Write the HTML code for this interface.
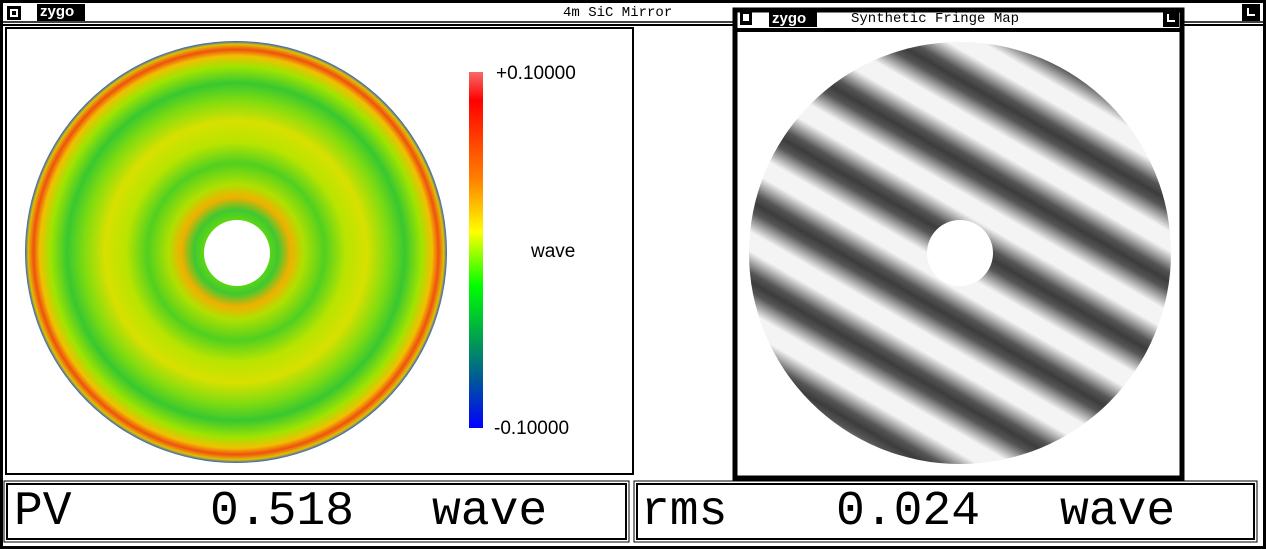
<!DOCTYPE html>
<html><head><meta charset="utf-8"><style>
html,body{margin:0;padding:0;background:#fff}
body{width:1266px;height:549px;position:relative;overflow:hidden;font-family:"Liberation Mono",monospace}
.t{position:absolute;white-space:pre;color:#000}
.big{font-family:"Liberation Mono",monospace;font-size:48px;line-height:48px}
</style></head><body>
<svg width="1266" height="549" style="position:absolute;left:0;top:0" xmlns="http://www.w3.org/2000/svg">
<defs>
<radialGradient id="rg" cx="236" cy="252" r="211" gradientUnits="userSpaceOnUse">
<stop offset="0.15" stop-color="#60d810"/>
<stop offset="0.2" stop-color="#40c830"/>
<stop offset="0.26" stop-color="#f0b000"/>
<stop offset="0.32" stop-color="#b0e000"/>
<stop offset="0.42" stop-color="#50d020"/>
<stop offset="0.52" stop-color="#b8e400"/>
<stop offset="0.62" stop-color="#d8e000"/>
<stop offset="0.72" stop-color="#80dc10"/>
<stop offset="0.8" stop-color="#38c830"/>
<stop offset="0.88" stop-color="#a0e400"/>
<stop offset="0.93" stop-color="#f0c000"/>
<stop offset="0.96" stop-color="#f05010"/>
<stop offset="0.985" stop-color="#e0c000"/>
<stop offset="1" stop-color="#3060c0"/>
</radialGradient>
<linearGradient id="cb" x1="0" y1="72" x2="0" y2="428" gradientUnits="userSpaceOnUse">
<stop offset="0" stop-color="#f86a6a"/>
<stop offset="0.08" stop-color="#ff0000"/>
<stop offset="0.3" stop-color="#ff8000"/>
<stop offset="0.45" stop-color="#ffff00"/>
<stop offset="0.6" stop-color="#00ff00"/>
<stop offset="0.75" stop-color="#00a050"/>
<stop offset="0.85" stop-color="#006090"/>
<stop offset="1" stop-color="#0000ff"/>
</linearGradient>
<linearGradient id="fr" x1="0" y1="0" x2="0" y2="70" gradientUnits="userSpaceOnUse" spreadMethod="repeat" gradientTransform="translate(960,253) rotate(30) translate(0,-10)">
<stop offset="0" stop-color="#3c3c3c"/>
<stop offset="0.12" stop-color="#555"/>
<stop offset="0.38" stop-color="#f4f4f4"/>
<stop offset="0.62" stop-color="#f4f4f4"/>
<stop offset="0.88" stop-color="#555"/>
<stop offset="1" stop-color="#3c3c3c"/>
</linearGradient>
</defs>
<rect x="1.5" y="1.5" width="1263" height="546" fill="none" stroke="#000" stroke-width="3"/>
<line x1="3" y1="22" x2="1263" y2="22" stroke="#000" stroke-width="1.5"/>
<line x1="3" y1="25" x2="1263" y2="25" stroke="#000" stroke-width="2"/>
<rect x="7" y="6" width="14" height="14" fill="#000"/>
<rect x="10" y="9" width="8" height="8" fill="#fff"/>
<rect x="12" y="11" width="4" height="4" fill="#000"/>
<rect x="37" y="4" width="48" height="17" fill="#000"/>
<rect x="1242" y="4" width="18" height="17" fill="#000"/>
<path d="M1248 8 v7 h7" stroke="#fff" stroke-width="2" fill="none"/>
<rect x="6" y="28" width="627" height="446" fill="#fff" stroke="#000" stroke-width="2"/>
<circle cx="236" cy="252" r="211" fill="url(#rg)"/>
<circle cx="237" cy="253" r="33" fill="#fff"/>
<rect x="469" y="72" width="14" height="356" fill="url(#cb)"/>
<rect x="735" y="10" width="447" height="468" fill="#fff" stroke="#000" stroke-width="5"/>
<line x1="737" y1="30" x2="1180" y2="30" stroke="#000" stroke-width="4"/>
<rect x="740" y="11" width="12" height="14" fill="#000"/>
<rect x="743" y="14" width="6" height="7" fill="#fff"/>
<rect x="769" y="11" width="48" height="16" fill="#000"/>
<rect x="1163" y="11" width="16" height="16" fill="#000"/>
<path d="M1168 14 v7 h7" stroke="#fff" stroke-width="2" fill="none"/>
<circle cx="960" cy="253" r="211" fill="url(#fr)"/>
<circle cx="960" cy="253" r="33" fill="#fff"/>
<rect x="7" y="484" width="619" height="55" fill="#fff" stroke="#000" stroke-width="2"/>
<rect x="637" y="484" width="617" height="55" fill="#fff" stroke="#000" stroke-width="2"/>
<rect x="4" y="481" width="625" height="61" fill="none" stroke="#000" stroke-width="1"/>
<rect x="634" y="481" width="623" height="61" fill="none" stroke="#000" stroke-width="1"/>
</svg>
<div class="t" style="left:40px;top:3px;font-family:'Liberation Sans',sans-serif;font-weight:bold;font-size:15px;color:#fff">zygo</div>
<div class="t" style="left:772px;top:10px;font-family:'Liberation Sans',sans-serif;font-weight:bold;font-size:15px;color:#fff">zygo</div>
<div class="t" style="left:563px;top:5px;font-size:14px">4m SiC Mirror</div>
<div class="t" style="left:851px;top:11px;font-size:14px">Synthetic Fringe Map</div>
<div class="t" style="left:496px;top:63px;font-family:'Liberation Sans',sans-serif;font-size:19px">+0.10000</div>
<div class="t" style="left:494px;top:418px;font-family:'Liberation Sans',sans-serif;font-size:19px">-0.10000</div>
<div class="t" style="left:531px;top:241px;font-family:'Liberation Sans',sans-serif;font-size:19px">wave</div>
<div class="t big" style="left:14px;top:488px">PV</div>
<div class="t big" style="left:210px;top:488px">0.518</div>
<div class="t big" style="left:432px;top:488px">wave</div>
<div class="t big" style="left:641px;top:488px">rms</div>
<div class="t big" style="left:836px;top:488px">0.024</div>
<div class="t big" style="left:1060px;top:488px">wave</div>
</body></html>
